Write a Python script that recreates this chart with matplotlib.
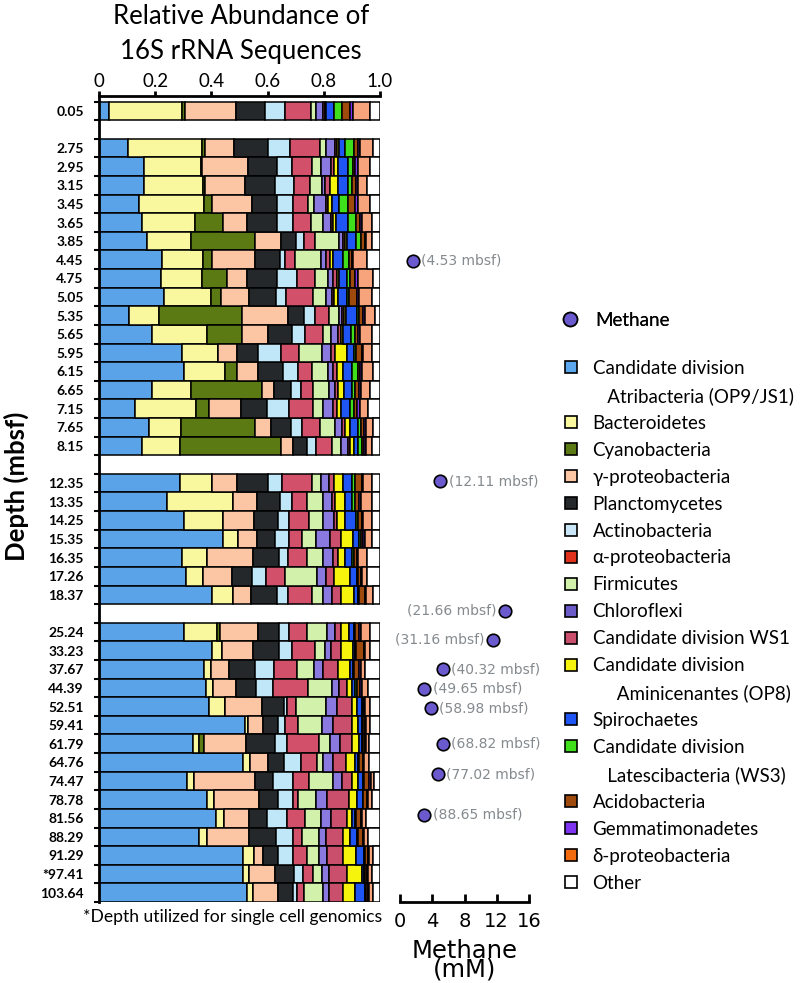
import matplotlib
matplotlib.use("Agg")
import matplotlib.pyplot as plt
from matplotlib.patches import Patch
from matplotlib.lines import Line2D
import numpy as np

plt.rcParams['font.family'] = ['Lato', 'DejaVu Sans']

# ---------------- data ----------------
depth_labels = ["0.05",
                "2.75", "2.95", "3.15", "3.45", "3.65", "3.85", "4.45", "4.75", "5.05",
                "5.35", "5.65", "5.95", "6.15", "6.65", "7.15", "7.65", "8.15",
                "12.35", "13.35", "14.25", "15.35", "16.35", "17.26", "18.37",
                "25.24", "33.23", "37.67", "44.39", "52.51", "59.41", "61.79", "64.76",
                "74.47", "78.78", "81.56", "88.29", "91.29", "*97.41", "103.64"]
panel_sizes = [1, 17, 7, 15]

atribacteria = [0.037, 0.104, 0.160, 0.160, 0.144, 0.152, 0.170, 0.223, 0.219, 0.231, 0.108, 0.190, 0.297, 0.302, 0.190, 0.128, 0.178, 0.154, 0.288, 0.241, 0.304, 0.440, 0.294, 0.310, 0.403, 0.304, 0.403, 0.375, 0.380, 0.393, 0.520, 0.333, 0.511, 0.312, 0.386, 0.415, 0.357, 0.514, 0.511, 0.525]
bacteroidetes = [0.257, 0.261, 0.203, 0.211, 0.230, 0.190, 0.157, 0.146, 0.146, 0.168, 0.107, 0.196, 0.128, 0.146, 0.137, 0.216, 0.114, 0.134, 0.113, 0.235, 0.136, 0.056, 0.089, 0.061, 0.075, 0.117, 0.034, 0.022, 0.027, 0.055, 0.011, 0.024, 0.026, 0.026, 0.023, 0.030, 0.029, 0.038, 0.024, 0.023]
cyanobacteria = [0.013, 0.012, 0.002, 0.006, 0.027, 0.100, 0.228, 0.032, 0.089, 0.034, 0.293, 0.124, 0.000, 0.042, 0.254, 0.049, 0.263, 0.359, 0.000, 0.000, 0.000, 0.000, 0.000, 0.000, 0.000, 0.010, 0.000, 0.000, 0.000, 0.000, 0.000, 0.017, 0.000, 0.000, 0.000, 0.000, 0.000, 0.000, 0.000, 0.000]
gamma_proteo = [0.181, 0.105, 0.166, 0.143, 0.142, 0.084, 0.092, 0.154, 0.074, 0.102, 0.166, 0.093, 0.065, 0.077, 0.043, 0.111, 0.056, 0.042, 0.089, 0.085, 0.113, 0.065, 0.166, 0.101, 0.062, 0.136, 0.110, 0.066, 0.081, 0.131, 0.054, 0.148, 0.066, 0.217, 0.162, 0.090, 0.149, 0.030, 0.091, 0.089]
planctomycetes = [0.103, 0.118, 0.101, 0.106, 0.089, 0.109, 0.053, 0.089, 0.107, 0.095, 0.056, 0.083, 0.077, 0.089, 0.058, 0.093, 0.072, 0.052, 0.113, 0.083, 0.083, 0.065, 0.093, 0.074, 0.095, 0.075, 0.095, 0.092, 0.071, 0.079, 0.053, 0.104, 0.055, 0.063, 0.067, 0.062, 0.095, 0.056, 0.068, 0.053]
actinobacteria = [0.071, 0.080, 0.054, 0.068, 0.057, 0.057, 0.030, 0.018, 0.068, 0.036, 0.039, 0.047, 0.079, 0.053, 0.036, 0.079, 0.038, 0.030, 0.047, 0.042, 0.041, 0.051, 0.032, 0.048, 0.039, 0.035, 0.044, 0.068, 0.059, 0.012, 0.024, 0.044, 0.060, 0.071, 0.051, 0.071, 0.062, 0.051, 0.033, 0.016]
alpha_proteo = [0.092, 0.106, 0.071, 0.057, 0.056, 0.061, 0.039, 0.036, 0.066, 0.094, 0.051, 0.065, 0.066, 0.048, 0.042, 0.087, 0.065, 0.059, 0.107, 0.053, 0.072, 0.044, 0.067, 0.068, 0.085, 0.064, 0.083, 0.080, 0.127, 0.030, 0.045, 0.114, 0.057, 0.060, 0.020, 0.065, 0.029, 0.052, 0.033, 0.022]
firmicutes = [0.018, 0.022, 0.032, 0.041, 0.020, 0.043, 0.086, 0.091, 0.047, 0.048, 0.035, 0.026, 0.083, 0.059, 0.060, 0.033, 0.054, 0.030, 0.032, 0.057, 0.049, 0.051, 0.055, 0.115, 0.037, 0.072, 0.035, 0.062, 0.083, 0.108, 0.085, 0.038, 0.021, 0.085, 0.063, 0.056, 0.063, 0.043, 0.032, 0.070]
chloroflexi = [0.026, 0.032, 0.035, 0.012, 0.042, 0.028, 0.015, 0.019, 0.018, 0.020, 0.009, 0.028, 0.029, 0.018, 0.020, 0.036, 0.024, 0.027, 0.031, 0.032, 0.039, 0.050, 0.036, 0.031, 0.034, 0.027, 0.020, 0.031, 0.027, 0.040, 0.042, 0.036, 0.038, 0.030, 0.038, 0.037, 0.024, 0.026, 0.028, 0.022]
ws1 = [0.006, 0.008, 0.013, 0.018, 0.007, 0.010, 0.005, 0.014, 0.012, 0.008, 0.008, 0.008, 0.016, 0.012, 0.012, 0.014, 0.011, 0.006, 0.017, 0.012, 0.009, 0.038, 0.020, 0.029, 0.030, 0.020, 0.036, 0.056, 0.026, 0.051, 0.065, 0.041, 0.045, 0.035, 0.081, 0.055, 0.062, 0.060, 0.064, 0.050]
aminicenantes = [0.005, 0.007, 0.015, 0.030, 0.014, 0.009, 0.006, 0.012, 0.009, 0.016, 0.007, 0.010, 0.041, 0.024, 0.021, 0.015, 0.018, 0.014, 0.033, 0.035, 0.029, 0.043, 0.023, 0.056, 0.047, 0.031, 0.043, 0.041, 0.018, 0.018, 0.024, 0.026, 0.032, 0.024, 0.028, 0.018, 0.023, 0.045, 0.051, 0.042]
spirochaetes = [0.028, 0.020, 0.035, 0.035, 0.027, 0.044, 0.034, 0.036, 0.026, 0.029, 0.038, 0.026, 0.026, 0.029, 0.026, 0.032, 0.030, 0.016, 0.029, 0.024, 0.040, 0.023, 0.024, 0.024, 0.016, 0.016, 0.008, 0.010, 0.012, 0.018, 0.012, 0.010, 0.012, 0.015, 0.019, 0.012, 0.024, 0.028, 0.008, 0.035]
latescibacteria = [0.029, 0.032, 0.016, 0.012, 0.032, 0.028, 0.017, 0.021, 0.012, 0.010, 0.009, 0.015, 0.008, 0.024, 0.012, 0.014, 0.008, 0.012, 0.012, 0.012, 0.008, 0.006, 0.008, 0.006, 0.003, 0.005, 0.004, 0.004, 0.006, 0.003, 0.003, 0.003, 0.002, 0.005, 0.003, 0.004, 0.004, 0.004, 0.004, 0.004]
acidobacteria = [0.027, 0.016, 0.008, 0.016, 0.024, 0.014, 0.015, 0.008, 0.018, 0.026, 0.012, 0.012, 0.020, 0.006, 0.015, 0.012, 0.012, 0.009, 0.024, 0.015, 0.012, 0.009, 0.012, 0.008, 0.021, 0.014, 0.028, 0.019, 0.012, 0.005, 0.009, 0.009, 0.016, 0.019, 0.012, 0.016, 0.017, 0.011, 0.006, 0.006]
gemmatimonadetes = [0.012, 0.006, 0.012, 0.008, 0.012, 0.006, 0.003, 0.004, 0.012, 0.009, 0.009, 0.006, 0.006, 0.006, 0.006, 0.010, 0.006, 0.006, 0.006, 0.006, 0.003, 0.006, 0.004, 0.004, 0.003, 0.005, 0.004, 0.005, 0.006, 0.004, 0.003, 0.003, 0.003, 0.005, 0.003, 0.004, 0.005, 0.004, 0.003, 0.004]
delta_proteo = [0.059, 0.045, 0.041, 0.030, 0.041, 0.035, 0.020, 0.050, 0.051, 0.044, 0.035, 0.041, 0.029, 0.039, 0.032, 0.029, 0.027, 0.020, 0.029, 0.038, 0.032, 0.023, 0.030, 0.020, 0.024, 0.033, 0.017, 0.016, 0.021, 0.017, 0.014, 0.012, 0.018, 0.012, 0.014, 0.015, 0.015, 0.014, 0.014, 0.015]
other = [0.036, 0.026, 0.036, 0.047, 0.036, 0.030, 0.030, 0.047, 0.026, 0.030, 0.018, 0.030, 0.030, 0.026, 0.036, 0.042, 0.024, 0.030, 0.030, 0.030, 0.030, 0.030, 0.047, 0.045, 0.026, 0.036, 0.036, 0.053, 0.044, 0.036, 0.036, 0.038, 0.038, 0.021, 0.030, 0.050, 0.042, 0.024, 0.030, 0.024]

series = [atribacteria, bacteroidetes, cyanobacteria, gamma_proteo, planctomycetes,
          actinobacteria, alpha_proteo, firmicutes, chloroflexi, ws1, aminicenantes,
          spirochaetes, latescibacteria, acidobacteria, gemmatimonadetes, delta_proteo, other]

taxa_labels = ["Candidate division\n   Atribacteria (OP9/JS1)", "Bacteroidetes", "Cyanobacteria",
               "\u03b3-proteobacteria", "Planctomycetes", "Actinobacteria", "\u03b1-proteobacteria",
               "Firmicutes", "Chloroflexi", "Candidate division WS1",
               "Candidate division\n     Aminicenantes (OP8)", "Spirochaetes",
               "Candidate division\n   Latescibacteria (WS3)", "Acidobacteria",
               "Gemmatimonadetes", "\u03b4-proteobacteria", "Other"]

bar_colors = ['#5BA3E9', '#F9F89E', '#5C7A13', '#FCC5A3', '#24282A', '#BFE7F8', '#D2506A',
              '#D2F1AA', '#8A7AE0', '#C94F6C', '#F6F30C', '#1F55F2', '#3FE01B', '#9E4A0C',
              '#7E34F0', '#F7A47C', '#FFFFFF']
legend_colors = ['#5BA8EE', '#F9F89E', '#5C7A13', '#FCC5A3', '#24282A', '#C9E6F7', '#E0311C',
                 '#D2F1AA', '#6A5BC8', '#C94F6C', '#F6F30C', '#1F55F2', '#3FE01B', '#9E4A0C',
                 '#7E34F0', '#F26B0F', '#FFFFFF']

methane_depths = ["4.53", "12.11", "21.66", "31.16", "40.32", "49.65", "58.98", "68.82", "77.02", "88.65"]
methane_mM = [1.6, 5.0, 13.0, 11.5, 5.3, 3.0, 3.8, 5.3, 4.7, 3.0]
methane_row_pos = [8.55, 20.4, 27.35, 28.9, 30.5, 31.55, 32.6, 34.5, 36.15, 38.3]
methane_label_left = [False, False, True, True, False, False, False, False, False, False]

# ---------------- layout helpers ----------------
slots = []
s = 0
for n in panel_sizes:
    slots.extend(range(s, s + n))
    s += n + 1
n_slots = s - 1
ypos = np.array(slots) + 0.5
y_top = -0.3

W, H = 800, 983
fig = plt.figure(figsize=(W / 100, H / 100), dpi=100)
ax_bottom_px, ax_top_px = 902, 96
ax = fig.add_axes([99 / W, 1 - ax_bottom_px / H, 281 / W, (ax_bottom_px - ax_top_px) / H])

left = np.zeros(len(depth_labels))
for vals, col in zip(series, bar_colors):
    vals = np.array(vals)
    ax.barh(ypos, vals, left=left, height=1.0, color=col, edgecolor='black', linewidth=1.1)
    left += vals

ax.set_xlim(0, 1)
ax.set_ylim(n_slots, y_top)
ax.xaxis.tick_top()
ax.set_xticks([0, 0.2, 0.4, 0.6, 0.8, 1.0])
ax.set_xticklabels(["0", "0.2", "0.4", "0.6", "0.8", "1.0"], fontsize=13.5)
ax.tick_params(axis='x', direction='out', length=3.5, width=2, pad=0.5)
ax.set_yticks(ypos)
ax.set_yticklabels(depth_labels, fontsize=10, fontweight='bold')
ax.tick_params(axis='y', which='major', length=0, pad=11)
bounds = sorted(set(list(np.array(slots, dtype=float)) + list(np.array(slots, dtype=float) + 1)))
ax.set_yticks(bounds, minor=True)
ax.tick_params(axis='y', which='minor', direction='out', length=3.5, width=1.5)
for sp in ['right', 'bottom']:
    ax.spines[sp].set_visible(False)
for sp in ['top', 'left']:
    ax.spines[sp].set_linewidth(2)

fig.text(241 / W, 1 - 34 / H, "Relative Abundance of\n16S rRNA Sequences",
         ha='center', va='center', fontsize=18.5, linespacing=1.55)
fig.text(16 / W, 1 - 486 / H, "Depth (mbsf)", rotation=90, ha='center', va='center',
         fontsize=18.5, fontweight='bold')
fig.text(83 / W, 1 - 917 / H, "*Depth utilized for single cell genomics",
         ha='left', va='center', fontsize=12.6)

# ---------------- methane panel ----------------
mx = fig.add_axes([400 / W, 1 - ax_bottom_px / H, 129 / W, (ax_bottom_px - ax_top_px) / H])
mx.set_xlim(0, 16)
mx.set_ylim(n_slots, y_top)
for sp in ['left', 'top', 'right']:
    mx.spines[sp].set_visible(False)
mx.spines['bottom'].set_linewidth(2)
mx.set_yticks([])
mx.set_xticks([0, 4, 8, 12, 16])
mx.set_xticklabels(["0", "4", "8", "12", "16"], fontsize=14, family='DejaVu Sans')
mx.tick_params(axis='x', direction='in', length=6, width=2, pad=7)
mx.patch.set_alpha(0)
mx.plot(methane_mM, methane_row_pos, 'o', ms=9, mfc='#6A5ACD', mec='black', mew=1.2,
        clip_on=False, zorder=5)
for d, xv, yv, lft in zip(methane_depths, methane_mM, methane_row_pos, methane_label_left):
    mx.annotate(f"({d} mbsf)", xy=(xv, yv), xytext=(-6 if lft else 6, 0),
                textcoords='offset points', ha='right' if lft else 'left', va='center',
                color='#858A8E', fontsize=10, family='DejaVu Sans', annotation_clip=False)
fig.text(465 / W, 1 - 982 / H, "Methane\n(mM)", ha='center', va='bottom',
         fontsize=17.5, family='DejaVu Sans', linespacing=0.72)

# ---------------- legends ----------------
leg_fs = 13.5
meth_handle = Line2D([], [], marker='o', ls='', ms=10, mfc='#6A5ACD', mec='black', mew=1.2)
leg1 = fig.legend([meth_handle], ["Methane"], loc='center left',
                  bbox_to_anchor=(562 / W, 1 - 320 / H), frameon=False, fontsize=leg_fs,
                  handlelength=0.85, handletextpad=0.9, borderpad=0, borderaxespad=0)

handles, labels = [], []
for lab, col in zip(taxa_labels, legend_colors):
    parts = lab.split("\n")
    handles.append(Patch(facecolor=col, edgecolor='black', linewidth=1.2))
    labels.append(parts[0])
    for p in parts[1:]:
        handles.append(Patch(facecolor='none', edgecolor='none'))
        labels.append(p)
leg2 = fig.legend(handles, labels, loc='upper left', bbox_to_anchor=(565 / W, 1 - 360 / H),
                  frameon=False, fontsize=leg_fs, handlelength=0.62, handleheight=0.62,
                  handletextpad=0.85, labelspacing=0.53, borderpad=0, borderaxespad=0)
fig.add_artist(leg1)

fig.savefig("out.png", dpi=100)
